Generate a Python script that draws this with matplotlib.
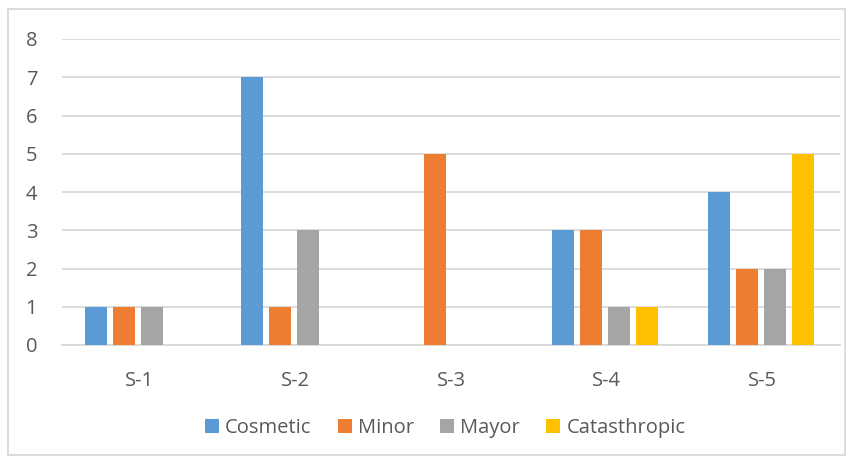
import numpy as np
import matplotlib.pyplot as plt
from matplotlib.patches import Rectangle

categorias = ["S-1", "S-2", "S-3", "S-4", "S-5"]
cosmetic = [1, 7, 0, 3, 4]
minor = [1, 1, 5, 3, 2]
mayor = [1, 3, 0, 1, 2]
catasthropic = [0, 0, 0, 1, 5]

series = [("Cosmetic", cosmetic, "#5b9bd5"),
          ("Minor", minor, "#ed7d31"),
          ("Mayor", mayor, "#a5a5a5"),
          ("Catasthropic", catasthropic, "#ffc000")]

plt.rcParams['font.family'] = ['Open Sans', 'DejaVu Sans']
texto = '#595959'

fig = plt.figure(figsize=(8.53, 4.63), dpi=100)
ax = fig.add_axes([62/853, 1-345/463, (840-62)/853, (345-39)/463])

x = np.arange(len(categorias))
paso = 0.18
ancho = 0.141
for j, (nombre, valores, color) in enumerate(series):
    ax.bar(x + (j - 1.5)*paso - 0.01, valores, ancho, color=color, label=nombre, zorder=3)

ax.set_xlim(-0.5, 4.5)
ax.set_ylim(0, 8)
ax.set_yticks(range(9))
ax.set_xticks(x)
ax.set_xticklabels(categorias)
ax.grid(axis='y', color='#d9d9d9', linewidth=1.3, zorder=0)
for lado in ['top', 'right', 'left']:
    ax.spines[lado].set_visible(False)
ax.spines['bottom'].set_color('#d9d9d9')
ax.spines['bottom'].set_linewidth(1.3)
ax.tick_params(axis='both', length=0, labelsize=14.5, colors=texto)
ax.tick_params(axis='y', pad=22)
ax.tick_params(axis='x', pad=19)
for t in ax.get_yticklabels():
    t.set_horizontalalignment('center')

ax.legend(loc='center', bbox_to_anchor=(0.4925, -0.27), ncol=4, frameon=False,
          fontsize=14.5, labelcolor=texto, handlelength=0.7, handleheight=0.7,
          handletextpad=0.3, columnspacing=1.3)

fig.patches.append(Rectangle((8/853, 1-455/463), (845-8)/853, (455-9)/463,
                             transform=fig.transFigure, fill=False,
                             edgecolor='#d9d9d9', linewidth=1.3))

plt.savefig('out.png', dpi=100)
